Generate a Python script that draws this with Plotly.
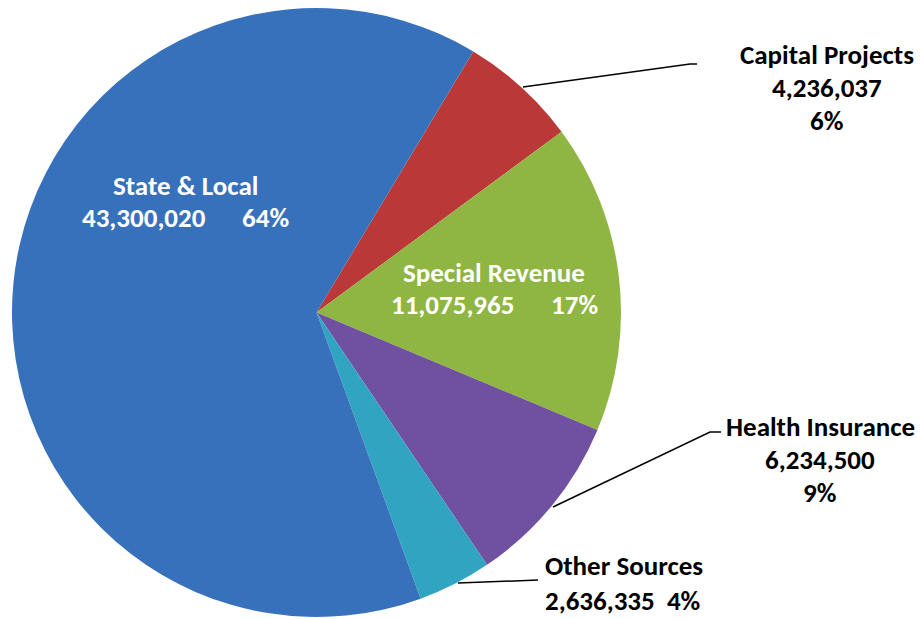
import plotly.graph_objects as go

W, H = 920, 619

# ---- data ----
categories = ["Capital Projects", "Special Revenue", "Health Insurance", "Other Sources", "State & Local"]
values = [4236037, 11075965, 6234500, 2636335, 43300020]
value_labels = ["4,236,037", "11,075,965", "6,234,500", "2,636,335", "43,300,020"]
pct_labels = ["6%", "17%", "9%", "4%", "64%"]
colors = ["#bb3838", "#8fb543", "#7050a0", "#31a4c2", "#3771bb"]

FONT = "Carlito, Calibri, Lato, sans-serif"

fig = go.Figure(go.Pie(
    labels=categories,
    values=values,
    sort=False,
    direction="clockwise",
    rotation=31,
    marker=dict(colors=colors, line=dict(width=0)),
    textinfo="none",
    hoverinfo="label+value+percent",
    domain=dict(x=[12 / W, 621 / W], y=[(H - 617) / H, (H - 8) / H]),
    showlegend=False,
))

def px(x, y):
    return x / W, 1 - y / H

annotations = []
def add_text(text, x, y, color, xanchor="center", yanchor="middle", align="center", size=27):
    ax, ay = px(x, y)
    annotations.append(dict(text="<b>%s</b>" % text, x=ax, y=ay, xref="paper", yref="paper",
                            xanchor=xanchor, yanchor=yanchor, align=align, showarrow=False,
                            font=dict(family=FONT, size=size, color=color)))

sp = "\u00a0"
# inside labels
add_text(categories[4], 185, 185, "white")
add_text(value_labels[4] + sp * 6 + pct_labels[4], 185, 218, "white")
add_text(categories[1], 494, 272, "white")
add_text(value_labels[1] + sp * 6 + pct_labels[1], 494, 304, "white")
# outside labels
add_text(categories[0], 827, 54, "black")
add_text(value_labels[0], 827, 87, "black")
add_text(pct_labels[0], 827, 120, "black")
add_text(categories[2], 820, 427, "black")
add_text(value_labels[2], 820, 460, "black")
add_text(pct_labels[2], 820, 493, "black")
add_text(categories[3] + "<br>" + value_labels[3] + sp * 2 + pct_labels[3],
         543, 619, "black", xanchor="left", yanchor="bottom", align="left")

def leader(points):
    p = [px(x, y) for x, y in points]
    path = "M " + " L ".join("%.5f,%.5f" % q for q in p)
    return dict(type="path", path=path, xref="paper", yref="paper",
                line=dict(color="black", width=1.5))

shapes = [
    leader([(523, 87), (690, 64), (697, 64)]),
    leader([(553, 507), (710, 432), (721, 432)]),
    leader([(458, 583), (538, 580)]),
]

fig.update_layout(
    width=W, height=H,
    margin=dict(l=0, r=0, t=0, b=0),
    paper_bgcolor="white",
    plot_bgcolor="white",
    annotations=annotations,
    shapes=shapes,
)

fig.write_html("out.html")
